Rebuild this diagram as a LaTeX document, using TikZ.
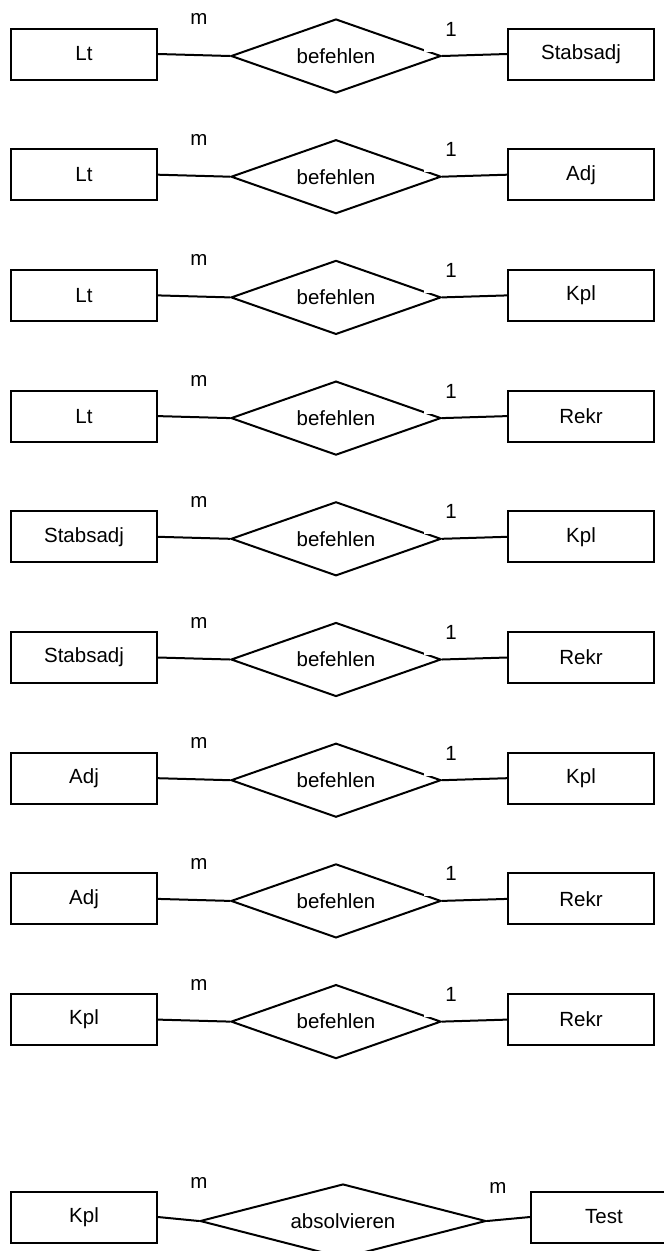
\documentclass[tikz,border=0pt]{standalone}
\usepackage{fontspec}
\setmainfont{Liberation Sans}
\usetikzlibrary{shapes.geometric}
\begin{document}
\begin{tikzpicture}[x=1pt,y=-1pt,
  every node/.style={font=\fontsize{20.5}{24}\selectfont},
  entity/.style={draw, line width=2pt, minimum width=146pt, minimum height=51pt, inner sep=0pt},
  rel/.style={draw, diamond, line width=2pt, minimum width=210pt, minimum height=74pt, inner sep=0pt, aspect=2.84},
  card/.style={inner sep=0pt},
  cardmask/.style={fill=white, minimum width=54pt, minimum height=45pt, inner sep=0pt},
  conn/.style={line width=2pt}]
\useasboundingbox (0,0) rectangle (664,1251);
\foreach \l/\r [count=\i from 0] in {Lt/Stabsadj, Lt/Adj, Lt/Kpl, Lt/Rekr, Stabsadj/Kpl, Stabsadj/Rekr, Adj/Kpl, Adj/Rekr, Kpl/Rekr} {
  \pgfmathsetmacro{\yc}{56+120.7*\i}
  \node[entity] (L\i) at (84,\yc-2) {\l};
  \node[rel] (R\i) at (336,\yc) {befehlen};
  \node[entity] (E\i) at (581,\yc-2) {\r};
  \draw[conn] (L\i.east) -- (R\i.west);
  \draw[conn] (R\i.east) -- (E\i.west);
  \node[cardmask] (c\i) at (451,\yc-27) {1};
  \node[card] (m\i) at (199,\yc-37) {m};
}
\node[entity] (K) at (84,1217) {Kpl};
\node[rel, minimum width=286pt] (A) at (343,1221) {absolvieren};
\node[entity] (T) at (604,1217) {Test};
\draw[conn] (K.east) -- (A.west);
\draw[conn] (A.east) -- (T.west);
\node[card] (mA) at (199,1182.5) {m};
\node[card] (mB) at (498,1187.5) {m};
\end{tikzpicture}
\end{document}
